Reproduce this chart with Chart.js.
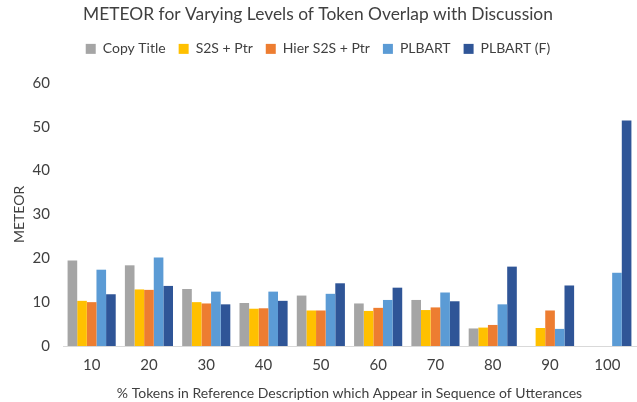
<!DOCTYPE html>
<html>
<head>
<meta charset="utf-8">
<script src="https://cdn.jsdelivr.net/npm/chart.js@4"></script>
<style>
  html, body { margin: 0; padding: 0; background: #fff; }
  #wrap { width: 637px; height: 402px; }
</style>
</head>
<body>
<div id="wrap"><canvas id="meteor_chart"></canvas></div>
<script>
// values
const overlap_levels = ["10", "20", "30", "40", "50", "60", "70", "80", "90", "100"];
const copy_title   = [19.5, 18.4, 13.0, 9.8, 11.5, 9.7, 10.5, 4.0, null, null];
const s2s_ptr      = [10.3, 12.9, 10.0, 8.5, 8.1, 8.0, 8.2, 4.2, 4.1, null];
const hier_s2s_ptr = [10.0, 12.8, 9.7, 8.6, 8.1, 8.7, 8.8, 4.8, 8.1, null];
const plbart       = [17.4, 20.2, 12.4, 12.4, 11.9, 10.5, 12.2, 9.5, 3.9, 16.7];
const plbart_f     = [11.8, 13.7, 9.5, 10.3, 14.3, 13.3, 10.2, 18.1, 13.8, 51.4];
const y_ticks      = [0, 10, 20, 30, 40, 50, 60];

const font_family = "Lato, 'Open Sans', sans-serif";
const text_color = "#404040";

function bar_set(label, data, color) {
    return {
        label: label,
        data: data,
        backgroundColor: color,
        borderWidth: 0,
        barPercentage: 1.0,
        categoryPercentage: 0.84
    };
}

const dataset_obj = {
    labels: overlap_levels,
    datasets: [
        bar_set("Copy Title", copy_title, "#A5A5A5"),
        bar_set("S2S + Ptr", s2s_ptr, "#FFC000"),
        bar_set("Hier S2S + Ptr", hier_s2s_ptr, "#ED7D31"),
        bar_set("PLBART", plbart, "#5B9BD5"),
        bar_set("PLBART (F)", plbart_f, "#2F5597")
    ]
};

// push the plot area down below the legend, like the excel layout
const legend_gap = {
    id: 'legend_gap',
    beforeInit(chart) {
        const fit = chart.legend.fit;
        chart.legend.fit = function () {
            fit.bind(chart.legend)();
            this.height += 17;
        };
    }
};

const bar_config = {
    type: 'bar',
    data: dataset_obj,
    plugins: [legend_gap],
    options: {
        responsive: true,
        maintainAspectRatio: false,
        animation: false,
        layout: { padding: { left: 0, right: 1, top: 0, bottom: 0 } },
        plugins: {
            title: {
                display: true,
                text: "METEOR for Varying Levels of Token Overlap with Discussion",
                color: text_color,
                font: { family: font_family, size: 17.4, weight: 'normal' },
                padding: { top: 4, bottom: 4 }
            },
            legend: {
                position: 'top',
                labels: {
                    color: text_color,
                    font: { family: font_family, size: 14 },
                    boxWidth: 10,
                    boxHeight: 10,
                    padding: 13
                }
            },
            tooltip: { enabled: false }
        },
        scales: {
            x: {
                grid: { display: false, drawTicks: false },
                border: { display: true, color: "#D9D9D9", width: 1 },
                ticks: {
                    color: text_color,
                    font: { family: font_family, size: 15 },
                    padding: 10
                },
                title: {
                    display: true,
                    text: "% Tokens in Reference Description which Appear in Sequence of Utterances",
                    color: text_color,
                    font: { family: font_family, size: 14 },
                    padding: { top: 2, bottom: 0 }
                },
                afterFit: function (scale) { scale.height = 56; }
            },
            y: {
                min: 0,
                max: 60,
                grid: { display: false, drawTicks: false },
                border: { display: false },
                afterBuildTicks: function (scale) {
                    scale.ticks = y_ticks.map(v => ({ value: v }));
                },
                ticks: {
                    color: text_color,
                    font: { family: font_family, size: 15 },
                    padding: 13
                },
                title: {
                    display: true,
                    text: "METEOR",
                    color: text_color,
                    font: { family: font_family, size: 14 },
                    padding: { top: 11, bottom: 4 }
                },
                afterFit: function (scale) { scale.width = 63; }
            }
        }
    }
};

window.onload = function () {
    new Chart(document.getElementById("meteor_chart").getContext('2d'), bar_config);
};
</script>
</body>
</html>
